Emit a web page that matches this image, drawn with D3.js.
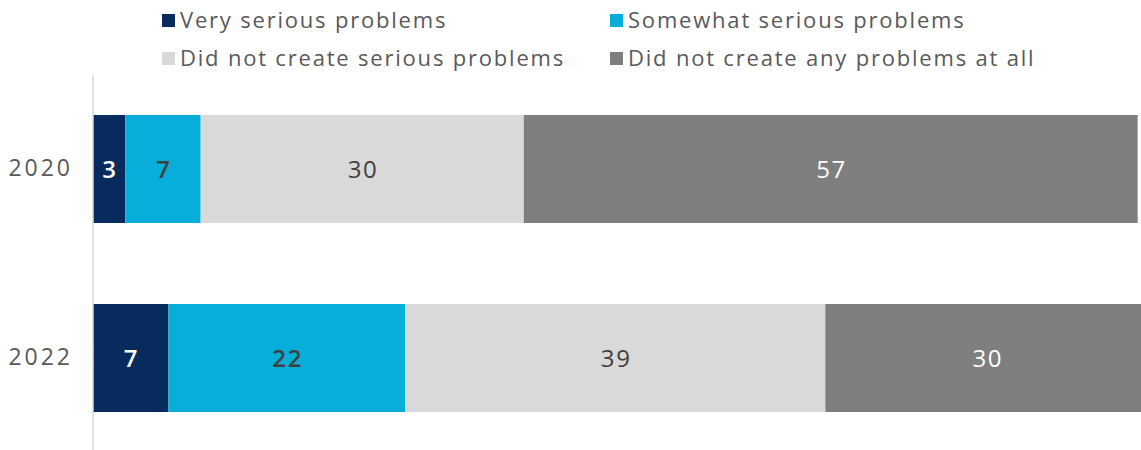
<!DOCTYPE html>
<html><head><meta charset="utf-8">
<script src="https://cdn.jsdelivr.net/npm/d3@7"></script>
<style>body{margin:0;background:#fff}svg{display:block}text{font-family:"Open Sans",sans-serif}</style>
</head><body><svg id="c" width="1141" height="450"></svg>
<script>
const years = ["2020", "2022"];
const seriesNames = ["Very serious problems", "Somewhat serious problems", "Did not create serious problems", "Did not create any problems at all"];
const verySerious = [3, 7];
const somewhatSerious = [7, 22];
const notSerious = [30, 39];
const noProblems = [57, 30];
const colors = ["#082b5d", "#06aed9", "#d9d9d9", "#7f7f7f"];
const labelColors = ["#ffffff", "#404040", "#404040", "#ffffff"];
const labelWeights = [600, 600, 400, 400];

const svg = d3.select("#c");
const x = d3.scaleLinear().domain([0, 100]).range([93, 1170]);
const y = d3.scaleBand().domain(years).range([76, 451]).paddingInner(0.4286).paddingOuter(0.2063);

const table = years.map((yr, i) => ({year: yr, v: [verySerious[i], somewhatSerious[i], notSerious[i], noProblems[i]]}));
const stack = d3.stack().keys([0,1,2,3]).value((d, k) => d.v[k]);
const layers = stack(table);

const g = svg.append("g");
layers.forEach((layer, k) => {
  g.selectAll(null).data(layer).enter().append("rect")
    .attr("x", d => x(d[0])).attr("width", d => x(d[1]) - x(d[0]))
    .attr("y", d => y(d.data.year)).attr("height", y.bandwidth())
    .attr("fill", colors[k]);
  g.selectAll(null).data(layer).enter().append("text")
    .attr("x", d => (x(d[0]) + x(d[1])) / 2 + 0.8)
    .attr("y", d => y(d.data.year) + y.bandwidth() / 2)
    .attr("dy", "0.36em").attr("text-anchor", "middle")
    .attr("font-size", 24).attr("letter-spacing", 1.6).attr("font-weight", labelWeights[k])
    .attr("fill", labelColors[k])
    .text(d => d.data.v[k]);
});

// axis
const yAxis = d3.axisLeft(y).tickSize(0).tickPadding(20);
const ax = svg.append("g").attr("transform", "translate(93,0)").call(yAxis);
ax.select(".domain").remove();
ax.selectAll("text").attr("font-size", 23).attr("letter-spacing", 3).attr("fill", "#595959").attr("font-family", "Open Sans, sans-serif");
svg.append("line").attr("x1", 93).attr("x2", 93).attr("y1", 75).attr("y2", 450).attr("stroke", "#d9d9d9").attr("stroke-width", 1.5);

// legend
const legPos = [[162, 20], [610, 20], [162, 58], [610, 58]];
seriesNames.forEach((n, k) => {
  const lg = svg.append("g").attr("transform", `translate(${legPos[k][0]},${legPos[k][1]})`);
  lg.append("rect").attr("x", 0).attr("y", -6).attr("width", 13).attr("height", 13).attr("fill", colors[k]);
  lg.append("text").attr("x", 18).attr("y", 0).attr("dy", "0.36em").attr("font-size", 22).attr("letter-spacing", 1.8).attr("fill", "#595959").text(n);
});
</script></body></html>
